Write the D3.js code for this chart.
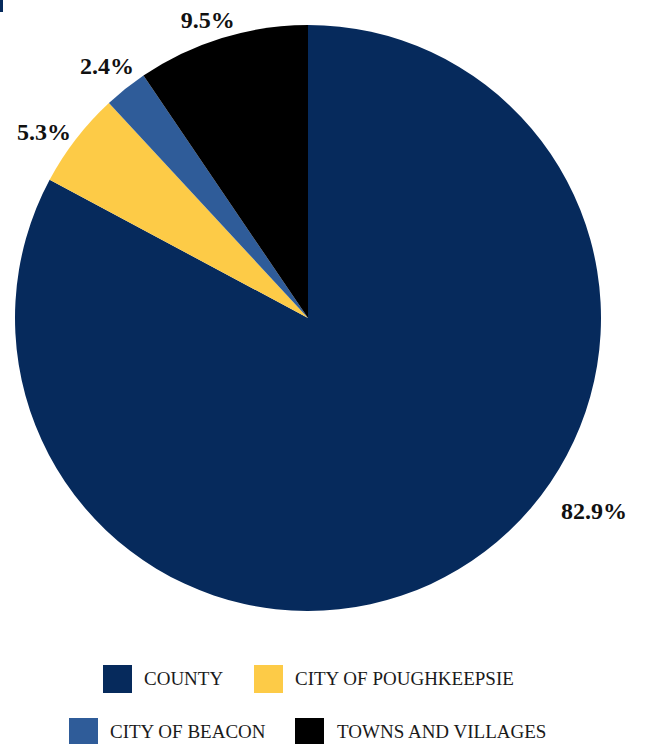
<!DOCTYPE html>
<html>
<head>
<meta charset="utf-8">
<script src="https://cdn.jsdelivr.net/npm/d3@7"></script>
<style>
  body { margin: 0; background: #fff; }
  text { font-family: "Liberation Serif", "DejaVu Serif", serif; }
</style>
</head>
<body>
<script>
var categories = ["COUNTY", "CITY OF POUGHKEEPSIE", "CITY OF BEACON", "TOWNS AND VILLAGES"];
var shares = [82.9, 5.3, 2.4, 9.5];
var colors = ["#062a5c", "#fdcb47", "#2f5c99", "#000000"];

var svgW = 646;
var svgH = 744;
var cx = 308, cy = 318, radius = 293;

var data = categories.map(function (c, i) {
  return { name: c, value: shares[i], color: colors[i] };
});

var svg = d3.select("body")
  .append("svg")
  .attr("width", svgW)
  .attr("height", svgH);

// bit of the cropped title bar in the corner
svg.append("rect")
  .attr("x", 0).attr("y", 0)
  .attr("width", 3).attr("height", 12)
  .attr("fill", "#062a5c");

var pie = d3.pie()
  .sort(null)
  .value(function (d) { return d.value; });

var arc = d3.arc().innerRadius(0).outerRadius(radius);

var g = svg.append("g")
  .attr("transform", "translate(" + cx + "," + cy + ")");

var arcs = pie(data);

g.selectAll("path")
  .data(arcs)
  .enter()
  .append("path")
  .attr("d", arc)
  .attr("fill", function (d) { return d.data.color; });

// labels sit outside the pie; the big slice label is pulled round (best-fit style)
function labelPos(d, i) {
  var a = (d.startAngle + d.endAngle) / 2;
  var r = 323;
  if (i === 0) { a = 124 * Math.PI / 180; r = 345; }
  if (i === 1) { a -= 2.5 * Math.PI / 180; }
  if (i === 3) { r = 315; a -= 1.5 * Math.PI / 180; }
  return [r * Math.sin(a), -r * Math.cos(a)];
}

g.selectAll(".lbl")
  .data(arcs)
  .enter()
  .append("text")
  .attr("class", "lbl")
  .attr("x", function (d, i) { return labelPos(d, i)[0]; })
  .attr("y", function (d, i) { return labelPos(d, i)[1]; })
  .attr("dy", "0.35em")
  .attr("text-anchor", "middle")
  .style("font-size", "24px")
  .style("font-weight", "bold")
  .attr("fill", "#111")
  .text(function (d) { return d.data.value.toFixed(1) + "%"; });

// legend, two rows
var legendPos = [[103, 665], [254, 665], [69, 718], [295, 718]];

var leg = svg.selectAll(".leg")
  .data(data)
  .enter()
  .append("g")
  .attr("class", "leg")
  .attr("transform", function (d, i) { return "translate(" + legendPos[i][0] + "," + legendPos[i][1] + ")"; });

leg.append("rect")
  .attr("width", 29)
  .attr("height", 28)
  .attr("fill", function (d) { return d.color; });

leg.append("text")
  .attr("x", function (d, i) { return i === 3 ? 42 : 41; })
  .attr("y", 20)
  .style("font-size", "19px")
  .attr("fill", "#1a1a1a")
  .text(function (d) { return d.name; });
</script>
</body>
</html>
